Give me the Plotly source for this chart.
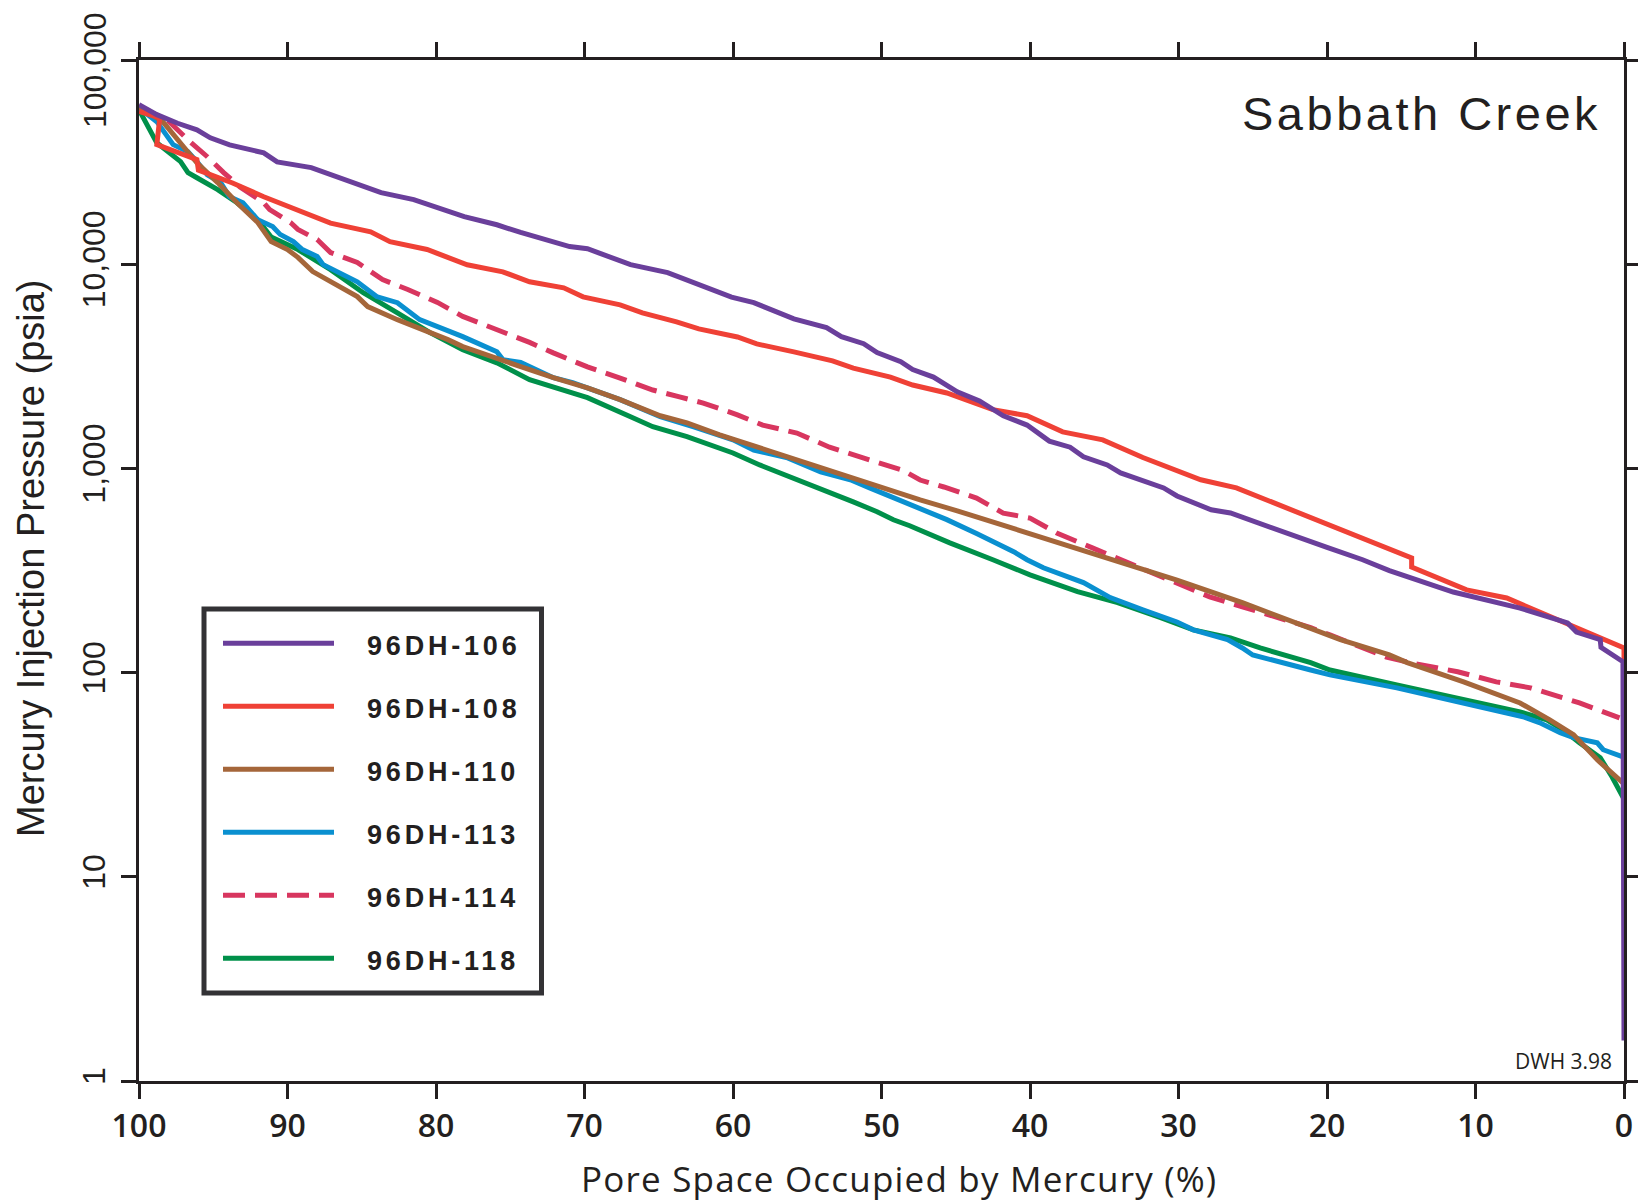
import plotly.graph_objects as go

# ---- capillary pressure curves: pore space occupied by mercury (%) vs injection pressure (psia)
pct_106 = [100, 98.8, 97.4, 96.1, 95.2, 93.9, 91.6, 90.7, 88.4, 86.2, 83.7, 81.5, 78.1, 75.9, 74.3,
           71.0, 69.8, 66.9, 64.4, 60.1, 58.6, 55.9, 53.7, 52.7, 51.2, 50.3, 48.7, 47.9, 47.4, 46.5,
           44.9, 43.4, 41.8, 40.2, 38.7, 37.3, 36.4, 34.8, 33.9, 31.0, 30.1, 27.8, 26.5, 24.3, 22.0,
           20.0, 17.6, 15.8, 11.5, 7.0, 3.8, 3.2, 1.6, 1.55, 0.07, 0]
psi_106 = [60400, 54000, 49000, 45500, 41600, 38400, 35100, 31700, 29700, 25900, 22400, 20700, 17100,
           15600, 14300, 12200, 11900, 9950, 9090, 6900, 6480, 5400, 4890, 4420, 4080, 3690, 3330,
           3050, 2950, 2800, 2370, 2140, 1810, 1630, 1360, 1270, 1140, 1040, 950, 802, 733, 627, 605,
           529, 457, 410, 357, 316, 248, 207, 175, 158, 145, 133, 113, 1.58]

pct_108 = [100, 98.6, 98.8, 96.1, 96.0, 93.7, 91.6, 89.3, 87.1, 84.4, 83.1, 80.6, 77.9, 75.5, 73.7,
           71.4, 70.1, 67.6, 66.1, 63.8, 62.3, 59.7, 58.4, 55.9, 53.3, 51.9, 49.4, 47.9, 45.6, 42.5,
           40.2, 37.8, 35.1, 32.4, 28.5, 26.1, 20.7, 18.0, 14.3, 14.3, 10.6, 7.9, 3.2, 1.5, 0, 0]
psi_108 = [56000, 52000, 38500, 32500, 28900, 25000, 21400, 18400, 15900, 14400, 12900, 11800, 9940,
           9180, 8200, 7660, 6920, 6320, 5780, 5220, 4820, 4400, 4070, 3720, 3360, 3100, 2800, 2560,
           2340, 1940, 1810, 1510, 1380, 1130, 880, 803, 558, 461, 364, 329, 254, 232, 165, 148, 132, 115]

pct_110 = [100, 98.4, 97.0, 96.1, 94.7, 93.4, 92.0, 91.1, 90.0, 89.3, 88.3, 85.3, 84.6, 82.6, 79.2,
           78.2, 74.3, 72.1, 69.8, 67.6, 64.9, 63.1, 60.9, 58.2, 56.4, 54.1, 51.9, 49.6, 47.4, 44.9,
           41.5, 38.4, 34.6, 30.1, 25.7, 22.0, 19.1, 15.8, 14.6, 10.8, 7.0, 5.0, 4.3, 3.4, 1.8, 0.27, 0]
psi_110 = [59000, 49900, 37600, 31400, 25100, 20000, 16000, 12900, 11800, 10800, 9200, 6940, 6200,
           5350, 4270, 3950, 3150, 2780, 2480, 2170, 1810, 1670, 1460, 1260, 1140, 1010, 900, 786,
           702, 620, 518, 437, 361, 284, 220, 175, 145, 122, 112, 90, 71, 58.7, 54.3, 49.7, 37.4,
           29.9, 28.5]

pct_113 = [100, 98.8, 97.7, 96.7, 96.1, 95.4, 94.5, 93.9, 93.0, 92.0, 91.0, 90.5, 89.6, 89.0, 88.0,
           87.6, 85.3, 84.0, 82.6, 81.1, 78.2, 75.9, 75.5, 74.3, 72.1, 70.8, 67.6, 64.9, 62.7, 60.0,
           58.6, 56.4, 54.1, 52.1, 50.8, 47.4, 45.6, 43.6, 41.1, 40.2, 39.1, 36.4, 35.5, 34.6, 32.4,
           30.1, 29.0, 26.7, 25.7, 25.0, 21.1, 19.8, 15.3, 10.8, 6.8, 5.7, 4.3, 3.4, 1.8, 1.4, 0.07]
psi_113 = [58300, 49900, 38500, 35500, 31800, 27400, 25100, 21400, 20000, 16500, 15300, 14000, 12900,
           11800, 10900, 9950, 8200, 6940, 6480, 5350, 4420, 3730, 3410, 3300, 2780, 2630, 2170,
           1790, 1600, 1380, 1230, 1130, 962, 880, 803, 641, 561, 480, 391, 357, 326, 276, 255, 233,
           203, 177, 162, 145, 132, 122, 103, 97.5, 84.2, 71.1, 60.8, 56.9, 50.8, 48.0, 45.3, 41.9, 38.7]

pct_114 = [100, 98.1, 96.5, 95.4, 94.3, 93.2, 91.6, 91.2, 89.8, 89.3, 88.0, 87.1, 85.3, 83.6, 81.9,
           79.9, 78.2, 75.9, 73.7, 72.1, 69.8, 67.6, 65.4, 63.6, 62.0, 59.7, 58.0, 55.7, 53.5, 50.8,
           48.6, 47.4, 45.8, 43.6, 41.8, 40.0, 38.2, 35.8, 33.5, 30.1, 27.9, 25.7, 23.4, 21.1, 19.8,
           16.0, 14.2, 11.2, 8.6, 6.3, 3.0, 0.74, 0.3]
psi_114 = [59000, 50900, 39400, 33600, 28100, 23900, 20000, 18500, 16000, 14800, 13200, 11400, 10200,
           8410, 7520, 6500, 5550, 4790, 4140, 3680, 3140, 2770, 2420, 2240, 2090, 1830, 1630, 1490,
           1270, 1100, 982, 877, 811, 716, 604, 571, 483, 408, 348, 275, 235, 210, 187, 166, 153,
           119, 111, 101, 90.1, 84.2, 71.1, 62.3, 60]

pct_118 = [100, 98.8, 97.2, 96.7, 96.1, 94.7, 93.4, 92.0, 91.1, 89.3, 87.1, 84.9, 82.6, 80.4, 78.2,
           75.9, 73.7, 71.2, 69.8, 66.9, 65.4, 63.1, 60.0, 58.2, 56.0, 54.1, 51.9, 50.3, 49.2, 48.1,
           45.4, 42.5, 40.0, 36.8, 34.1, 31.2, 29.0, 26.5, 24.5, 21.1, 19.8, 15.3, 10.8, 7.0, 5.2,
           4.1, 3.0, 1.6, 0.8, 0.13, 0]
psi_118 = [57000, 39300, 31800, 28100, 26500, 23200, 20000, 16500, 13600, 11800, 9400, 7250, 5780,
           4620, 3810, 3290, 2720, 2370, 2220, 1790, 1600, 1430, 1190, 1040, 900, 803, 686, 613, 560,
           524, 432, 357, 301, 249, 220, 186, 162, 148, 132, 112, 103, 87, 73.5, 64.2, 58.7, 52.5,
           45.3, 38.3, 30.8, 24.6, 24]

sample_names = ["96DH-106", "96DH-108", "96DH-110", "96DH-113", "96DH-114", "96DH-118"]
sample_pct = [pct_106, pct_108, pct_110, pct_113, pct_114, pct_118]
sample_psi = [psi_106, psi_108, psi_110, psi_113, psi_114, psi_118]
sample_colors = ["#6a3f9b", "#ef4136", "#a5663a", "#0a90d0", "#d8365f", "#00904a"]
sample_dash = ["solid", "solid", "solid", "solid", "22px,10px", "solid"]

x_ticks = [100, 90, 80, 70, 60, 50, 40, 30, 20, 10, 0]
y_ticks = [1, 10, 100, 1000, 10000, 100000]
y_ticktext = ["1", "10", "100", "1,000", "10,000", "100,000"]

title_text = "Sabbath Creek"
x_title = "Pore Space Occupied by Mercury (%)"
y_title = "Mercury Injection Pressure (psia)"
credit_text = "DWH 3.98"

INK = "#231f20"
LINE_W = 5
W, H = 1638, 1204
L, R, T, B = 139, 1624, 60, 1081   # plot area edges in page pixels


def px(x):
    return (x - L) / (R - L)


def py(y):
    return (B - y) / (B - T)


def spaced(text, sp):
    return f'<span style="letter-spacing:{sp}px">{text}</span>'


fig = go.Figure()

# draw order: purple ends up on top
for i in [5, 4, 3, 2, 1, 0]:
    fig.add_trace(go.Scatter(
        x=sample_pct[i], y=sample_psi[i], mode="lines", name=sample_names[i],
        line=dict(color=sample_colors[i], width=LINE_W, dash=sample_dash[i]),
        cliponaxis=False, showlegend=False, hoverinfo="x+y+name",
    ))

axis_common = dict(
    showline=True, linewidth=3, linecolor=INK, mirror="ticks",
    ticks="outside", ticklen=15, tickwidth=2.5, tickcolor=INK,
    showgrid=False, zeroline=False, layer="below traces",
    automargin=False, ticklabeloverflow="allow",
)

ytick_font = dict(family="Liberation Sans", size=32, color=INK)

# the top label sits a little below its tick so it stays on the page
y_ticktext_axis = y_ticktext[:-1] + [""]

fig.update_xaxes(
    range=[100, 0], tickmode="array", tickvals=x_ticks,
    tickfont=dict(family="Open Sans", size=32, color=INK, weight=600),
    **axis_common,
)
fig.update_yaxes(
    type="log", range=[0, 5], tickmode="array", tickvals=y_ticks, ticktext=y_ticktext_axis,
    tickangle=-90, tickfont=ytick_font, ticklabelstandoff=3,
    **axis_common,
)

annotations = [
    dict(text=y_ticktext[-1], x=px(95), y=py(70), xref="paper", yref="paper", textangle=-90,
         xanchor="center", yanchor="middle", showarrow=False, font=ytick_font),
    dict(text=spaced(title_text, 3.5), x=px(1603), y=py(113), xref="paper", yref="paper",
         xanchor="right", yanchor="middle", showarrow=False,
         font=dict(family="Liberation Sans", size=47, color=INK)),
    dict(text=credit_text, x=px(1614), y=py(1061), xref="paper", yref="paper",
         xanchor="right", yanchor="middle", showarrow=False,
         font=dict(family="Open Sans", size=21, color=INK)),
    dict(text=spaced(x_title, 1.2), x=px(899), y=py(1178), xref="paper", yref="paper",
         xanchor="center", yanchor="middle", showarrow=False,
         font=dict(family="Open Sans", size=35, color=INK)),
    dict(text=y_title, x=px(31), y=py(558), xref="paper", yref="paper", textangle=-90,
         xanchor="center", yanchor="middle", showarrow=False,
         font=dict(family="Liberation Sans", size=38, color=INK)),
]

# legend box with sample swatches
shapes = [dict(type="rect", xref="paper", yref="paper",
               x0=px(204), x1=px(541.5), y0=py(609), y1=py(993),
               line=dict(color="#333235", width=5), fillcolor="white", layer="above")]
row0, row_gap = 643.3, 63.0
for i, name in enumerate(sample_names):
    yr = row0 + i * row_gap
    shapes.append(dict(type="line", xref="paper", yref="paper",
                       x0=px(223), x1=px(334), y0=py(yr), y1=py(yr),
                       line=dict(color=sample_colors[i], width=LINE_W, dash=sample_dash[i]),
                       layer="above"))
    annotations.append(dict(text=spaced(name, 3.8), x=px(365), y=py(yr + 3),
                            xref="paper", yref="paper", xanchor="left", yanchor="middle",
                            showarrow=False,
                            font=dict(family="Liberation Sans", size=27, color=INK, weight="bold")))

fig.update_layout(
    template="none",
    width=W, height=H, autosize=False,
    margin=dict(l=L, r=W - R, t=T, b=H - B, pad=0, autoexpand=False),
    paper_bgcolor="white", plot_bgcolor="white",
    annotations=annotations, shapes=shapes,
    showlegend=False,
)

fig.write_html("out.html")
